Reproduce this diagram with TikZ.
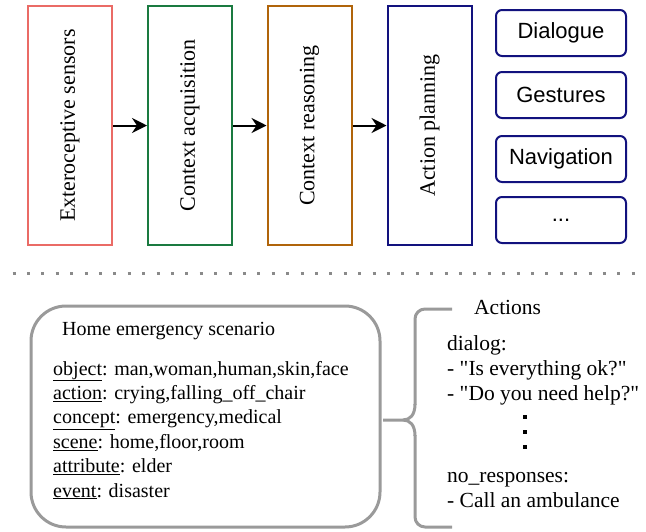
\documentclass[tikz,border=0pt]{standalone}
\usepackage{fontspec}
\setmainfont{Liberation Serif}[Ligatures=TeXOff]
\newfontfamily\arialfont{Liberation Sans}
\usetikzlibrary{arrows.meta}
\definecolor{cred}{HTML}{EA6B66}
\definecolor{cgreen}{HTML}{1A7A40}
\definecolor{cbrown}{HTML}{B0640A}
\definecolor{cnavy}{HTML}{12127E}
\definecolor{cgray}{HTML}{9A9A9A}
\definecolor{cdot}{HTML}{8A8A8A}
\tikzset{
  stagebox/.style={draw, line width=2pt, rotate=90, minimum width=239pt, minimum height=84pt,
    inner sep=0pt, font=\fontsize{22}{26}\selectfont},
  actbox/.style={draw=cnavy, line width=2pt, rounded corners=6pt, minimum width=130pt,
    minimum height=46pt, inner sep=0pt, font=\arialfont\fontsize{22}{26}\selectfont},
  flow/.style={line width=2pt, -{Stealth[length=15pt,width=15pt,inset=5pt]}},
  ltext/.style={anchor=base west, inner sep=0pt, font=\fontsize{20}{24}\selectfont},
  rtext/.style={anchor=base west, inner sep=0pt, font=\fontsize{21.5}{25}\selectfont},
  gline/.style={draw=cgray, line width=3pt},
}
\begin{document}
\begin{tikzpicture}[x=1pt,y=-1pt]
\useasboundingbox (0,0) rectangle (646,531);
% top stages
\node[stagebox, draw=cred] (ext) at (70,125.5) {Exteroceptive sensors};
\node[stagebox, draw=cgreen] (acq) at (190,125.5) {Context acquisition};
\node[stagebox, draw=cbrown] (rea) at (309.5,125.5) {Context reasoning};
\node[stagebox, draw=cnavy] (pla) at (429.5,125.5) {Action planning};
\draw[flow] (ext) -- (acq);
\draw[flow] (acq) -- (rea);
\draw[flow] (rea) -- (pla);
% action boxes
\node[actbox] (dia) at (561,33) {Dialogue};
\node[actbox] (ges) at (561,95) {Gestures};
\node[actbox] (nav) at (561,159) {Navigation};
\node[actbox] (dots) at (561,220) {...};
% separator
\draw[cdot, line width=3pt, dash pattern=on 3pt off 11.4pt] (12.5,273) -- (646,273);
% scenario box
\node[gline, rounded corners=35pt, minimum width=349pt, minimum height=221pt, inner sep=0pt] (scen) at (205.5,416.5) {};
\node[ltext] (head) at (62,335) {Home emergency scenario};
\node[ltext] (l1) at (53,375) {\underline{object}: man,woman,human,skin,face};
\node[ltext] (l2) at (53,399.4) {\underline{action}: crying,falling\_off\_chair};
\node[ltext] (l3) at (53,423.8) {\underline{concept}: emergency,medical};
\node[ltext] (l4) at (53,448.2) {\underline{scene}: home,floor,room};
\node[ltext] (l5) at (53,472.6) {\underline{attribute}: elder};
\node[ltext] (l6) at (53,497) {\underline{event}: disaster};
% brace
\draw[gline, rounded corners=10pt] (452,309) -- (415,309) -- (415,405);
\draw[gline] (415,404) .. controls (415,415) and (410,420) .. (403,420) -- (383,420);
\draw[gline] (403,420) .. controls (410,420) and (415,425) .. (415,436);
\draw[gline, rounded corners=10pt] (415,435) -- (415,527) -- (452,527);
% actions text
\node[rtext] (act) at (474,314) {Actions};
\node[rtext] (r1) at (447,350) {dialog:};
\node[rtext] (r2) at (447,375) {- "Is everything ok?"};
\node[rtext] (r3) at (447,400) {- "Do you need help?"};
\fill (523.2,415.2) rectangle +(3.6,3.6);
\fill (523.2,430.2) rectangle +(3.6,3.6);
\fill (523.2,445.2) rectangle +(3.6,3.6);
\node[rtext] (r4) at (447,482) {no\_responses:};
\node[rtext] (r5) at (447,507) {- Call an ambulance};
\end{tikzpicture}
\end{document}
